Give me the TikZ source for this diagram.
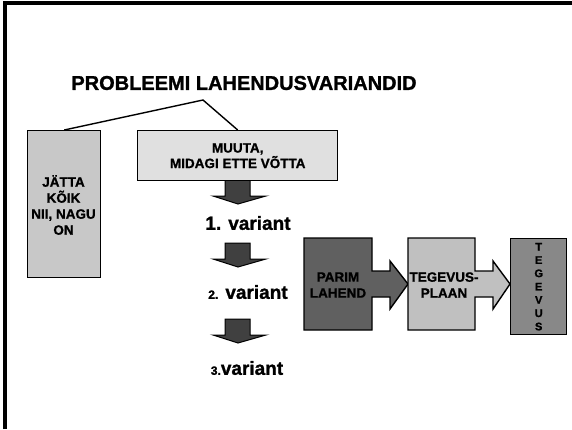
\documentclass[tikz,border=0pt]{standalone}
\usepackage{fontspec}
\setmainfont{Liberation Sans}[BoldFont={Liberation Sans Bold}, BoldFeatures={FakeBold=1.2}]
\definecolor{arrowgray}{HTML}{404040}
\definecolor{boxleft}{HTML}{C8C8C8}
\definecolor{boxtop}{HTML}{E0E0E0}
\definecolor{parimgray}{HTML}{606060}
\definecolor{plaangray}{HTML}{C0C0C0}
\definecolor{tegevgray}{HTML}{888888}
\begin{document}
\begin{tikzpicture}[x=1pt,y=-1pt,
  box/.style={draw=black, line width=1.4pt, inner sep=0pt, align=center,
    font=\bfseries\fontsize{13.5}{15.5}\selectfont},
  boxtext/.style={inner sep=0pt, align=center, font=\bfseries\fontsize{13.5}{16}\selectfont},
  shapeline/.style={draw=black, line width=1.4pt},
  vartext/.style={inner sep=0pt, font=\bfseries\fontsize{19}{22}\selectfont},
  downarr/.pic={\filldraw[fill=arrowgray, draw=black, line width=1pt]
     (-13,0) -- (12,0) -- (12,16) -- (28,16) -- (0,24) -- (-25,16) -- (-13,16) -- cycle;}
]
\useasboundingbox (0,0) rectangle (572,429);
% frame
\draw[line width=3.5pt] (5,429) -- (5,3) -- (572,3);
% title
\node[inner sep=0pt, font=\bfseries\fontsize{20}{24}\selectfont] (title) at (244,83) {PROBLEEMI LAHENDUSVARIANDID};
\coordinate (split) at (203,100);
% left and top boxes
\node[box, fill=boxleft, minimum width=73pt, minimum height=147pt, anchor=north west] (lbox) at (27,130) {};
\node[boxtext] (ltext) at (63.5,205) {JÄTTA\\KÕIK\\NII, NAGU\\ON};
% down arrows (drawn before top box so shaft meets it)
\pic at (238,180) {downarr};
\node[box, fill=boxtop, minimum width=200pt, minimum height=50pt, anchor=north west] (mbox) at (137,130) {MUUTA,\\MIDAGI ETTE VÕTTA};
\draw[line width=1.4pt] (lbox.north) -- (split) -- (mbox.north);
\pic at (238,243) {downarr};
\pic at (238,319) {downarr};
% variants
\node[vartext] (v1) at (248,223) {1. variant};
\node[vartext] (v2) at (248,292) {{\fontsize{12}{14}\selectfont 2.} variant};
\node[vartext] (v3) at (247,368) {{\fontsize{12}{14}\selectfont 3.}variant};
% block arrows
\filldraw[shapeline, fill=parimgray] (304,238) -- (372,238) -- (372,271) -- (390,271) -- (390,261) -- (408,284) -- (390,309) -- (390,297) -- (372,297) -- (372,330) -- (304,330) -- cycle;
\filldraw[shapeline, fill=plaangray] (408,238) -- (475,238) -- (475,271) -- (493,271) -- (493,261) -- (510,284) -- (493,309) -- (493,297) -- (475,297) -- (475,330) -- (408,330) -- cycle;
\node[boxtext] (parim) at (338,285) {PARIM\\LAHEND};
\node[boxtext] (plaan) at (444,285) {TEGEVUS-\\PLAAN};
\node[box, fill=tegevgray, minimum width=56pt, minimum height=96pt, anchor=north west] (tegev) at (510,238) {};
\node[inner sep=0pt, align=center, font=\bfseries\fontsize{11}{13.3}\selectfont] (tegevtext) at (tegev.center) {T\\E\\G\\E\\V\\U\\S};
\end{tikzpicture}
\end{document}
